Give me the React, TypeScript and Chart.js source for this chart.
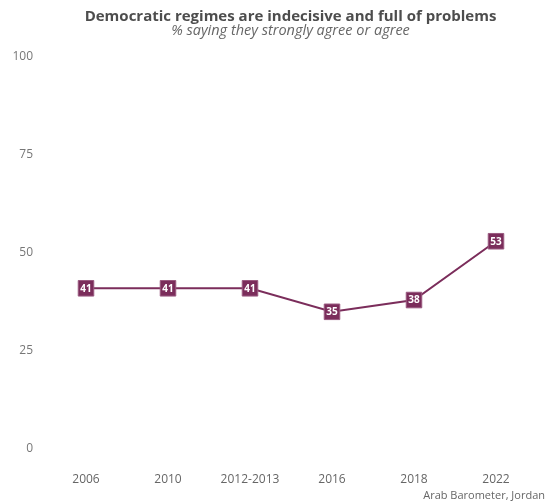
import React, { useEffect, useRef } from "react";
import { Chart, registerables } from "chart.js";

Chart.register(...registerables);

const categories = ["2006", "2010", "2012-2013", "2016", "2018", "2022"];
const values = [41, 41, 41, 35, 38, 53];
const yTicks = [0, 25, 50, 75, 100];
const titleText = "Democratic regimes are indecisive and full of problems";
const subtitleText = "% saying they strongly agree or agree";
const captionText = "Arab Barometer, Jordan";

const FONT = "'Open Sans', sans-serif";
const MAROON = "#7b2d5b";

const decorPlugin = {
  id: "decor",
  afterDatasetsDraw(chart: any) {
    const ctx = chart.ctx;
    const meta = chart.getDatasetMeta(0);
    ctx.save();
    ctx.fillStyle = "#ffffff";
    ctx.font = `bold 10px ${FONT}`;
    ctx.textAlign = "center";
    ctx.textBaseline = "middle";
    meta.data.forEach((pt: any, i: number) => {
      ctx.fillText(String(values[i]), pt.x, pt.y + 0.5);
    });
    ctx.restore();
  },
  afterDraw(chart: any) {
    const ctx = chart.ctx;
    const w = chart.width;
    ctx.save();
    ctx.textAlign = "center";
    ctx.textBaseline = "middle";
    ctx.fillStyle = "#4d4d4d";
    ctx.font = `bold 15px ${FONT}`;
    ctx.fillText(titleText, w / 2 + 16, 17);
    ctx.fillStyle = "#666666";
    ctx.font = `italic 14.5px ${FONT}`;
    ctx.fillText(subtitleText, w / 2 + 16, 30.5);
    ctx.textAlign = "right";
    ctx.font = `11px ${FONT}`;
    ctx.fillStyle = "#666666";
    ctx.fillText(captionText, w - 4, 496);
    ctx.restore();
  },
};

export default function App() {
  const ref = useRef<HTMLCanvasElement | null>(null);
  useEffect(() => {
    if (!ref.current) return;
    const chart = new Chart(ref.current, {
      type: "line",
      data: {
        labels: categories,
        datasets: [
          {
            data: values,
            borderColor: MAROON,
            backgroundColor: MAROON,
            borderWidth: 2,
            pointStyle: "rect",
            pointRadius: 11,
            pointBorderWidth: 1,
            pointBorderColor: "#9a5a80",
            pointBackgroundColor: MAROON,
            tension: 0,
          },
        ],
      },
      options: {
        animation: false,
        responsive: false,
        maintainAspectRatio: false,
        layout: { padding: { top: 57, right: 12, bottom: 15, left: 0 } },
        plugins: {
          legend: { display: false },
          tooltip: { enabled: false },
          title: { display: false },
        },
        scales: {
          x: {
            type: "category",
            offset: true,
            grid: { display: false, drawTicks: false },
            border: { display: false },
            afterFit: (s: any) => {
              s.height = 40;
            },
            ticks: {
              color: "#666666",
              font: { family: FONT, size: 12 },
              padding: 23,
              maxRotation: 0,
            },
          },
          y: {
            min: 0,
            max: 100,
            grid: { display: false, drawTicks: false },
            border: { display: false },
            afterFit: (s: any) => {
              s.width = 45;
            },
            afterBuildTicks: (s: any) => {
              s.ticks = yTicks.map((v) => ({ value: v }));
            },
            ticks: {
              color: "#777777",
              font: { family: FONT, size: 12 },
              padding: 12,
            },
          },
        },
      },
      plugins: [decorPlugin],
    });
    return () => chart.destroy();
  }, []);
  return (
    <div style={{ position: "absolute", left: 0, top: 0, width: 549, height: 504, background: "#fff" }}>
      <canvas ref={ref} width={549} height={504} style={{ width: 549, height: 504 }} />
    </div>
  );
}
